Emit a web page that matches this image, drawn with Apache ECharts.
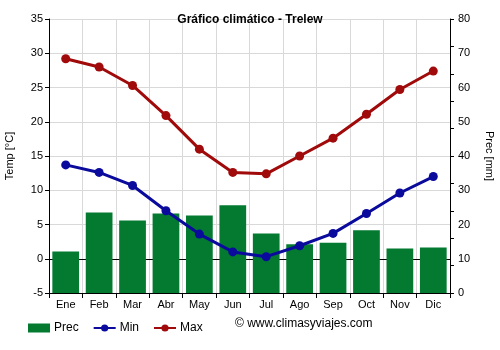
<!DOCTYPE html>
<html>
<head>
<meta charset="utf-8">
<script src="https://cdn.jsdelivr.net/npm/echarts@6/dist/echarts.min.js"></script>
<style>
  html, body { margin: 0; padding: 0; background: #fff; }
  #chart { width: 500px; height: 350px; }
</style>
</head>
<body>
<div id="chart"></div>
<script>
// Monthly climate data for Trelew
const months = ['Ene', 'Feb', 'Mar', 'Abr', 'May', 'Jun', 'Jul', 'Ago', 'Sep', 'Oct', 'Nov', 'Dic'];
const precMm = [12.1, 23.5, 21.2, 23.2, 22.6, 25.6, 17.4, 14.2, 14.7, 18.3, 13.0, 13.3];
const minTemp = [13.7, 12.6, 10.7, 7.0, 3.6, 1.0, 0.3, 1.9, 3.7, 6.6, 9.6, 12.0];
const maxTemp = [29.2, 28.0, 25.3, 20.9, 16.0, 12.6, 12.4, 15.0, 17.6, 21.1, 24.7, 27.4];
const tempTicks = [-5, 0, 5, 10, 15, 20, 25, 30, 35];
const precTicks = [0, 10, 20, 30, 40, 50, 60, 70, 80];

const FONT = 'Liberation Sans, Arial, sans-serif';
const GREEN = '#037a30';
const BLUE = '#0a0a9c';
const RED = '#a00a0a';

const chart = echarts.init(document.getElementById('chart'), null, { renderer: 'canvas' });

chart.setOption({
  animation: false,
  backgroundColor: '#ffffff',
  textStyle: { fontFamily: FONT },
  title: {
    text: 'Gráfico climático - Trelew',
    left: 'center',
    top: 9,
    textStyle: { fontFamily: FONT, fontSize: 12, fontWeight: 'bold', color: '#000' }
  },
  grid: { left: 49, right: 50, top: 19, bottom: 57, containLabel: false, outerBoundsMode: 'none' },
  legend: {
    left: 23,
    top: 317,
    itemGap: 14,
    itemWidth: 22,
    itemHeight: 9,
    textStyle: { fontFamily: FONT, fontSize: 12, color: '#000', padding: [0, 0, 0, -1] },
    data: [
      { name: 'Prec', icon: 'rect' },
      { name: 'Min' },
      { name: 'Max' }
    ]
  },
  graphic: [{
    type: 'text',
    left: 235,
    top: 318,
    style: { text: '© www.climasyviajes.com', font: '12px ' + FONT, fill: '#000' }
  }],
  xAxis: [
    {
      type: 'category',
      data: months,
      boundaryGap: true,
      axisLine: { show: true, onZero: false, lineStyle: { color: '#000', width: 1 } },
      axisTick: { show: true, alignWithLabel: false, length: 5, lineStyle: { color: '#000' } },
      axisLabel: { color: '#000', fontSize: 11, fontFamily: FONT, margin: 6 },
      splitLine: { show: true, lineStyle: { color: '#d9d9d9', width: 1 } }
    },
    {
      // line across the plot at 0 °C, drawn beneath the bars
      type: 'category',
      data: months,
      position: 'bottom',
      axisLine: { show: true, onZero: true, onZeroAxisIndex: 0, lineStyle: { color: '#000', width: 1 } },
      axisTick: { show: false },
      axisLabel: { show: false },
      splitLine: { show: false }
    }
  ],
  yAxis: [
    {
      type: 'value',
      name: 'Temp [°C]',
      nameLocation: 'middle',
      nameGap: 34,
      nameRotate: 90,
      nameTextStyle: { fontFamily: FONT, fontSize: 11, color: '#000' },
      min: tempTicks[0],
      max: tempTicks[tempTicks.length - 1],
      interval: 5,
      position: 'left',
      axisLine: { show: true, onZero: false, lineStyle: { color: '#000' } },
      axisTick: { show: true, length: 4, lineStyle: { color: '#000' } },
      axisLabel: { color: '#000', fontSize: 11, fontFamily: FONT, margin: 6 },
      splitLine: { show: true, lineStyle: { color: '#d9d9d9', width: 1 } }
    },
    {
      type: 'value',
      name: 'Prec [mm]',
      nameLocation: 'middle',
      nameGap: 34,
      nameRotate: -90,
      nameTextStyle: { fontFamily: FONT, fontSize: 11, color: '#000' },
      min: precTicks[0],
      max: precTicks[precTicks.length - 1],
      interval: 10,
      position: 'right',
      axisLine: { show: true, onZero: false, lineStyle: { color: '#000' } },
      axisTick: { show: false },
      axisLabel: { color: '#000', fontSize: 11, fontFamily: FONT, margin: 8, verticalAlign: 'middle', padding: [4, 0, 0, 0] },
      splitLine: { show: false }
    },
    {
      // tick marks only on the precipitation side
      type: 'value',
      min: 0,
      max: 80,
      interval: 8,
      position: 'right',
      axisLine: { show: false, onZero: false },
      axisTick: { show: true, length: 4, lineStyle: { color: '#000' } },
      axisLabel: { show: false },
      splitLine: { show: false }
    }
  ],
  series: [
    {
      name: 'Prec',
      type: 'bar',
      xAxisIndex: 0,
      yAxisIndex: 1,
      data: precMm,
      barWidth: '80%',
      itemStyle: { color: GREEN },
      z: 2
    },
    {
      name: 'Min',
      type: 'line',
      xAxisIndex: 0,
      yAxisIndex: 0,
      data: minTemp,
      symbol: 'circle',
      symbolSize: 9,
      lineStyle: { color: BLUE, width: 3 },
      itemStyle: { color: BLUE },
      z: 4
    },
    {
      name: 'Max',
      type: 'line',
      xAxisIndex: 0,
      yAxisIndex: 0,
      data: maxTemp,
      symbol: 'circle',
      symbolSize: 9,
      lineStyle: { color: RED, width: 3 },
      itemStyle: { color: RED },
      z: 4
    }
  ]
});
</script>
</body>
</html>
